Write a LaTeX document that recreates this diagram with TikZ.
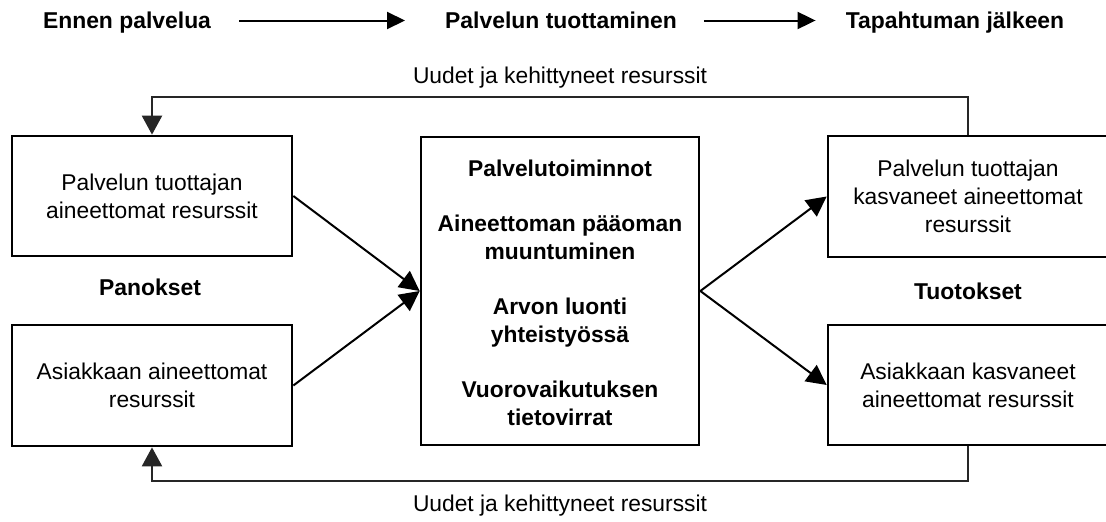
\documentclass[tikz,border=0pt]{standalone}
\usepackage{fontspec}
\setmainfont{Liberation Sans}
\usetikzlibrary{arrows.meta}
\begin{document}
\begin{tikzpicture}[x=1pt,y=-1pt,
  txt/.style={font=\fontsize{22.8}{27.7}\selectfont},
  box/.style={draw, line width=2.7pt, inner sep=0pt, align=center,
    minimum width=280pt, minimum height=121pt, txt},
  phase/.style={inner sep=0pt, anchor=base, font=\bfseries\fontsize{22.9}{27}\selectfont},
  head/.style={inner sep=0pt, anchor=base, font=\bfseries\fontsize{22.9}{27}\selectfont},
  fbtext/.style={inner sep=0pt, anchor=base, txt},
  timeline/.style={line width=2pt, -{Triangle[length=18pt,width=17pt]}},
  flow/.style={line width=2pt, -{Triangle[length=20pt,width=20pt]}},
  feedback/.style={line width=2.3pt, draw=black!85, -{Triangle[length=19pt,width=20pt]}}
]
\useasboundingbox (0,0) rectangle (1106,522);

% phases of the service
\node[phase] (e1) at (127,28.5) {Ennen palvelua};
\node[phase] (e2) at (561,28.5) {Palvelun tuottaminen};
\node[phase] (e3) at (955,28.5) {Tapahtuman jälkeen};
\coordinate (ay) at (0,20.5);
\draw[timeline, shorten <=28pt, shorten >=40pt] (e1.east |- ay) -- (e2.west |- ay);
\draw[timeline, shorten <=27pt, shorten >=30pt] (e2.east |- ay) -- (e3.west |- ay);

% input resources
\node[box, minimum height=120pt] (lt) at (152,196) {Palvelun tuottajan\\aineettomat resurssit};
\node[box] (lb) at (152,385.5) {Asiakkaan aineettomat\\resurssit};
\node[head] (pan) at (150,295) {Panokset};

% service activities
\node[box, minimum width=278pt, minimum height=308pt] (c) at (560,291) {};
\node[txt, font=\bfseries\fontsize{22.8}{27.7}\selectfont, align=center, inner sep=0pt] (ct) at (560,292.5)
  {Palvelutoiminnot\\[27.7pt]
   Aineettoman pääoman\\muuntuminen\\[27.7pt]
   Arvon luonti\\yhteistyössä\\[27.7pt]
   Vuorovaikutuksen\\tietovirrat};

% output resources
\node[box] (rt) at (968,196.5) {Palvelun tuottajan\\kasvaneet aineettomat\\resurssit};
\node[box, minimum height=120pt] (rb) at (968,385) {Asiakkaan kasvaneet\\aineettomat resurssit};
\node[head] (tuo) at (968,299) {Tuotokset};

% flows through the service
\draw[flow] (lt.east) -- (c.west);
\draw[flow] (lb.east) -- (c.west);
\draw[flow] (c.east) -- (rt.west);
\draw[flow] (c.east) -- (rb.west);

% feedback loops
\coordinate (ftop) at (560,97);
\coordinate (fbot) at (560,481);
\draw[feedback] (rt.north) |- (ftop) -| (lt.north);
\draw[feedback] (rb.south) |- (fbot) -| (lb.south);
\node[fbtext] (ltop) at (560,83) {Uudet ja kehittyneet resurssit};
\node[fbtext] (lbot) at (560,511) {Uudet ja kehittyneet resurssit};
\end{tikzpicture}
\end{document}
